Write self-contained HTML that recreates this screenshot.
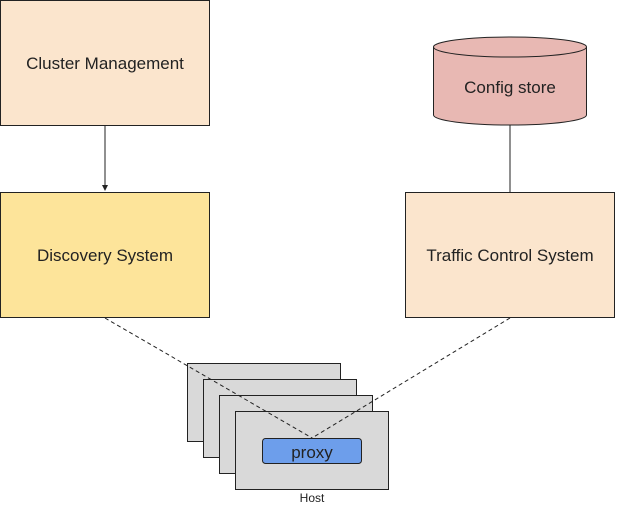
<!DOCTYPE html>
<html><head><meta charset="utf-8"><style>
html,body{margin:0;padding:0;background:#fff;width:628px;height:513px;overflow:hidden}
svg{display:block}
text{font-family:"Liberation Sans",Arial,sans-serif;fill:#222}
</style></head><body>
<svg width="628" height="513" viewBox="0 0 628 513">
<defs>
<marker id="ar" markerWidth="6" markerHeight="6" refX="5" refY="3" orient="auto"><path d="M0,0 L6,3 L0,6 Z" fill="#222"/></marker>
</defs>
<rect x="0.5" y="0.5" width="209" height="125" fill="#fbe5cd" stroke="#222" stroke-width="1"/>
<text x="105" y="69" font-size="17" text-anchor="middle">Cluster Management</text>
<line x1="105" y1="126" x2="105" y2="190" stroke="#222" stroke-width="1" marker-end="url(#ar)"/>
<rect x="0.5" y="192.5" width="209" height="125" fill="#fde49a" stroke="#222" stroke-width="1"/>
<text x="105" y="261" font-size="17" text-anchor="middle">Discovery System</text>
<rect x="405.5" y="192.5" width="209" height="125" fill="#fbe5cd" stroke="#222" stroke-width="1"/>
<text x="510" y="261" font-size="17" text-anchor="middle">Traffic Control System</text>
<path d="M433.5,47 L433.5,115 A76.5,10 0 0 0 586.5,115 L586.5,47" fill="#e8b8b3" stroke="#222" stroke-width="1"/>
<ellipse cx="510" cy="47" rx="76.5" ry="10" fill="#e8b8b3" stroke="#222" stroke-width="1"/>
<text x="510" y="93" font-size="17" text-anchor="middle">Config store</text>
<line x1="510" y1="125" x2="510" y2="192" stroke="#222" stroke-width="1"/>
<rect x="187.5" y="363.5" width="153" height="78" fill="#d9d9d9" stroke="#222"/>
<rect x="203.5" y="379.5" width="153" height="78" fill="#d9d9d9" stroke="#222"/>
<rect x="219.5" y="395.5" width="153" height="78" fill="#d9d9d9" stroke="#222"/>
<rect x="235.5" y="411.5" width="153" height="78" fill="#d9d9d9" stroke="#222"/>
<rect x="262.5" y="438.5" width="99" height="25" rx="3" fill="#6d9eeb" stroke="#222"/>
<text x="312" y="458" font-size="17" text-anchor="middle">proxy</text>
<text x="312" y="502" font-size="12" text-anchor="middle">Host</text>
<line x1="105" y1="318" x2="312" y2="438" stroke="#222" stroke-dasharray="4,3"/>
<line x1="510" y1="318" x2="312" y2="438" stroke="#222" stroke-dasharray="4,3"/>
</svg>
</body></html>
